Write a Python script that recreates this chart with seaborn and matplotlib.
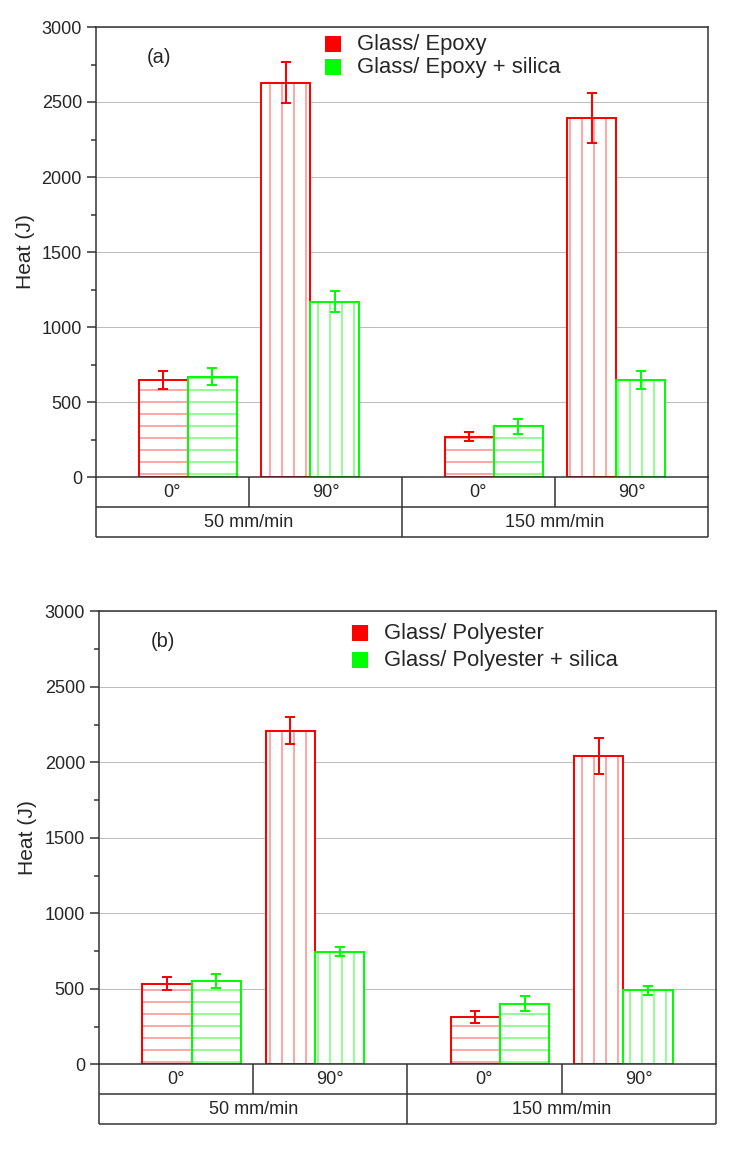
import matplotlib
matplotlib.use("Agg")
import matplotlib.pyplot as plt
from matplotlib.lines import Line2D
from matplotlib.ticker import MultipleLocator
import pandas as pd
import seaborn as sns

# ================= values =================
speeds = ["50 mm/min", "150 mm/min"]
angles = ["0°", "90°"]

epoxy_labels = ["Glass/ Epoxy", "Glass/ Epoxy + silica"]
epoxy_heat = [650, 2630, 270, 2395]
epoxy_err = [60, 135, 30, 165]
epoxy_silica_heat = [670, 1170, 340, 650]
epoxy_silica_err = [55, 70, 50, 60]

poly_labels = ["Glass/ Polyester", "Glass/ Polyester + silica"]
poly_heat = [535, 2210, 315, 2040]
poly_err = [45, 90, 40, 120]
poly_silica_heat = [550, 745, 400, 490]
poly_silica_err = [45, 30, 50, 30]

y_ticks = [0, 500, 1000, 1500, 2000, 2500, 3000]

# ================= style =================
W, H, DPI = 734, 1154, 72
COLORS = ["#ff0000", "#00ff00"]
HATCH_COLORS = ["#ff7070", "#50ff50"]
HATCHES = {"0°": "-", "90°": "|"}
LINE_C = "#303030"
ROW_PX = 30
GROUP_GAP = 2.5  # distance between speed groups (in bar-pair units)

sns.set_style("white")
plt.rcParams["font.family"] = ["Liberation Sans", "DejaVu Sans"]
plt.rcParams["hatch.linewidth"] = 1.2


def make_frame(labels, heats):
    rows = []
    for lab, vals in zip(labels, heats):
        k = 0
        for si, sp in enumerate(speeds):
            for ai, an in enumerate(angles):
                rows.append(dict(material=lab, speed=sp, angle=an, heat=vals[k],
                                 xpos=1 + GROUP_GAP * si + ai))
                k += 1
    return pd.DataFrame(rows)


def draw_table(ax):
    h = ROW_PX / (ax.get_position().height * H)
    kw = dict(transform=ax.transAxes, clip_on=False, color=LINE_C, lw=1.5,
              solid_capstyle="butt")
    for y in (-h, -2 * h):
        ax.plot([0, 1], [y, y], **kw)
    n1 = len(speeds) * len(angles)
    for i in range(n1 + 1):
        ax.plot([i / n1] * 2, [0, -h], **kw)
    for i in range(len(speeds) + 1):
        ax.plot([i / len(speeds)] * 2, [-h, -2 * h], **kw)
    k = 0
    for si, sp in enumerate(speeds):
        for an in angles:
            ax.text((k + 0.5) / n1, -0.5 * h, an, transform=ax.transAxes,
                    ha="center", va="center", fontsize=18)
            k += 1
        ax.text((si + 0.5) / len(speeds), -1.5 * h, sp, transform=ax.transAxes,
                ha="center", va="center", fontsize=18)


def draw_panel(ax, tag, labels, heats, errs, leg_xy, leg_space):
    df = make_frame(labels, heats)

    # pass 1: white bars with light hatching
    sns.barplot(data=df, x="xpos", y="heat", hue="material", hue_order=labels,
                palette=COLORS, native_scale=True, errorbar=None, width=0.8,
                legend=False, ax=ax)
    first = list(ax.containers)
    for cont, lab, light in zip(first, labels, HATCH_COLORS):
        sub = df[df.material == lab]
        for bar, an in zip(cont.patches, sub.angle):
            bar.set_facecolor("white")
            bar.set_edgecolor(light)
            bar.set_linewidth(0)
            bar.set_hatch(HATCHES[an])

    # pass 2: bold outlines
    sns.barplot(data=df, x="xpos", y="heat", hue="material", hue_order=labels,
                palette=COLORS, native_scale=True, errorbar=None, width=0.8,
                fill=False, linewidth=2, legend=False, ax=ax)

    for cont, err, col in zip(first, errs, COLORS):
        xs = [p.get_x() + p.get_width() / 2 for p in cont.patches]
        ys = [p.get_height() for p in cont.patches]
        ax.errorbar(xs, ys, yerr=err, fmt="none", ecolor=col, elinewidth=2,
                    capsize=5, capthick=2, zorder=5)

    ax.set_xlim(0.25, 5.25)
    ax.set_ylim(y_ticks[0], y_ticks[-1])
    ax.set_yticks(y_ticks)
    ax.yaxis.set_minor_locator(MultipleLocator(250))
    ax.set_xticks([])
    ax.set_xlabel("")
    ax.set_ylabel("")
    ax.tick_params(axis="y", which="major", direction="out", length=9, width=1.5,
                   labelsize=18, pad=5, left=True, color=LINE_C)
    ax.tick_params(axis="y", which="minor", direction="out", length=5, width=1.5,
                   left=True, color=LINE_C)
    ax.yaxis.grid(True, color="#bdbdbd", lw=1)
    ax.set_axisbelow(True)
    for s in ax.spines.values():
        s.set_visible(True)
        s.set_color(LINE_C)
        s.set_linewidth(1.5)

    ax.text(-0.116, 0.5, "Heat (J)", transform=ax.transAxes, rotation=90,
            ha="center", va="center", fontsize=21)
    ax.text(0.103, 0.933, tag, transform=ax.transAxes, ha="center", va="center",
            fontsize=20)

    handles = [Line2D([], [], marker="s", ls="", color=c, markersize=15)
               for c in COLORS]
    ax.legend(handles, labels, loc="upper left", bbox_to_anchor=leg_xy,
              frameon=False, fontsize=22, borderpad=0, borderaxespad=0,
              handlelength=0.8, handletextpad=0.73, labelspacing=leg_space)

    draw_table(ax)


fig = plt.figure(figsize=(W / DPI, H / DPI), dpi=DPI)
ax_a = fig.add_axes([96 / W, 1 - 477 / H, 612 / W, 450 / H])
ax_b = fig.add_axes([99 / W, 1 - 1064.3 / H, 616.7 / W, 453 / H])

draw_panel(ax_a, "(a)", epoxy_labels, [epoxy_heat, epoxy_silica_heat],
           [epoxy_err, epoxy_silica_err], (0.371, 0.984), 0.1)
draw_panel(ax_b, "(b)", poly_labels, [poly_heat, poly_silica_heat],
           [poly_err, poly_silica_err], (0.407, 0.9735), 0.27)

fig.savefig("out.png", dpi=DPI)
